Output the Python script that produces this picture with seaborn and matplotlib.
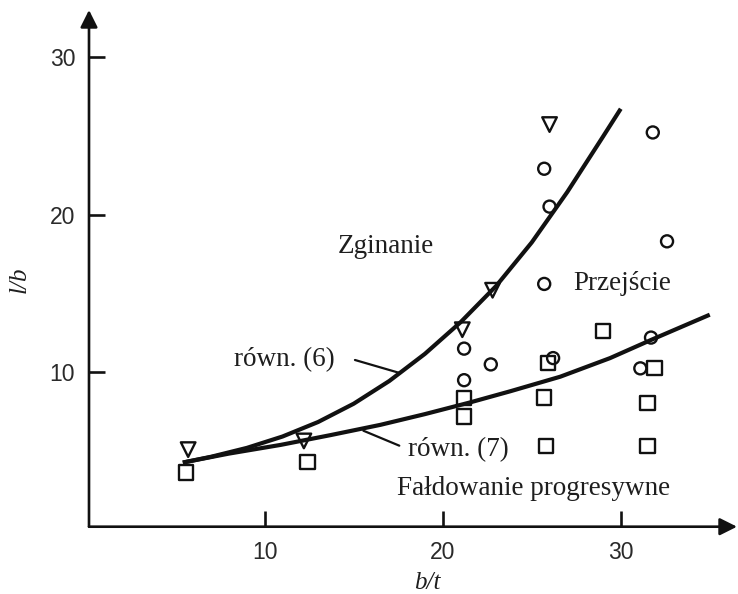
import matplotlib
matplotlib.use("Agg")
import matplotlib.pyplot as plt
import seaborn as sns

# Test points: bending (triangles), transition (circles), progressive folding (squares)
bend_x = [5.7, 12.2, 21.1, 22.8, 26.0]
bend_y = [5.1, 5.65, 12.7, 15.2, 25.7]

trans_x = [25.7, 26.0, 31.8, 32.6, 25.7, 21.2, 22.7, 26.2, 21.2, 31.7, 31.1]
trans_y = [22.9, 20.5, 25.2, 18.3, 15.6, 11.5, 10.5, 10.9, 9.5, 12.2, 10.25]

fold_x = [5.6, 12.4, 21.2, 21.2, 25.9, 25.7, 25.8, 29.0, 31.9, 31.5, 31.5]
fold_y = [3.65, 4.3, 8.35, 7.2, 10.6, 8.4, 5.35, 12.6, 10.25, 8.05, 5.35]

# Equation (6) curve
eq6_x = [5.4, 7.0, 9.0, 11.0, 13.0, 15.0, 17.0, 19.0, 21.0, 23.0, 25.0, 27.0, 29.0, 30.0]
eq6_y = [4.28, 4.65, 5.21, 5.93, 6.85, 8.01, 9.45, 11.17, 13.17, 15.47, 18.23, 21.43, 24.93, 26.7]

# Equation (7) curve
eq7_x = [5.4, 8.0, 10.9, 13.7, 16.5, 19.0, 21.5, 23.8, 26.6, 29.4, 31.7, 35.0]
eq7_y = [4.28, 4.85, 5.4, 6.02, 6.67, 7.35, 8.08, 8.8, 9.72, 10.9, 12.05, 13.65]

x_ticks = [10, 20, 30]
y_ticks = [10, 20, 30]

sns.set_theme(style="white")
plt.rcParams["font.family"] = ["Liberation Sans", "DejaVu Sans"]

fig = plt.figure(figsize=(7.38, 5.94), dpi=100)
ax = fig.add_axes([89 / 738, 1 - 526.7 / 594, 648 / 738, 516.7 / 594])
ax.set_xlim(0.13, 36.53)
ax.set_ylim(0.215, 32.96)

ink = "#111111"

# Curves
line_kw = dict(sort=False, estimator=None, color=ink, lw=3.0, ax=ax,
               solid_joinstyle="round", solid_capstyle="butt")
sns.lineplot(x=eq6_x, y=eq6_y, **line_kw)
sns.lineplot(x=eq7_x, y=eq7_y, **line_kw)

# Points
pt_kw = dict(color=ink, facecolor="none", edgecolor=ink, linewidth=1.7, ax=ax, zorder=3)
sns.scatterplot(x=bend_x, y=bend_y, marker="v", s=110, **pt_kw)
sns.scatterplot(x=trans_x, y=trans_y, marker="o", s=75, **pt_kw)
sns.scatterplot(x=fold_x, y=fold_y, marker="s", s=105, **pt_kw)

# Axes drawn as arrows
for sp in ax.spines.values():
    sp.set_visible(False)
arrow = dict(arrowstyle="-|>", lw=1.9, color=ink, mutation_scale=26, shrinkA=0, shrinkB=0)
ax.annotate("", xy=(1.0, 0.0), xytext=(0.0, 0.0), xycoords="axes fraction",
            textcoords="axes fraction", arrowprops=arrow, annotation_clip=False)
ax.annotate("", xy=(0.0, 1.0), xytext=(0.0, 0.0), xycoords="axes fraction",
            textcoords="axes fraction", arrowprops=arrow, annotation_clip=False)

ax.set_xticks(x_ticks)
ax.set_yticks(y_ticks)
ax.tick_params(axis="both", direction="in", length=11.5, width=1.9, color=ink,
               labelsize=16.5, labelcolor="#2a2a2a", pad=10,
               bottom=True, left=True)
ax.set_xlabel("")
ax.set_ylabel("")

serif = ["Liberation Serif", "DejaVu Serif"]
tk = dict(family=serif, fontsize=19.5, color="#1e1e1e")

ax.text(16.8, 18.0, "Zginanie", ha="center", va="center", **tk)
ax.text(30.1, 15.6, "Przejście", ha="center", va="center", **tk)
ax.text(11.1, 10.8, "równ. (6)", ha="center", va="center", **tk)
ax.text(20.9, 5.08, "równ. (7)", ha="center", va="center", **tk)
ax.text(25.1, 2.66, "Fałdowanie progresywne", ha="center", va="center", **tk)

# Leader lines to the curves
ax.plot([15.07, 17.6], [10.78, 9.95], color=ink, lw=1.6)
ax.plot([17.56, 15.54], [5.35, 6.3], color=ink, lw=1.6)

fig.text(427 / 738, 1 - 583 / 594, "b/t", ha="center", va="center",
         family=serif, style="italic", fontsize=18, color="#1e1e1e")
fig.text(20 / 738, 1 - 280 / 594, "l/b", ha="center", va="center", rotation=90,
         family=serif, style="italic", fontsize=18, color="#1e1e1e")

fig.savefig("out.png", dpi=100)
